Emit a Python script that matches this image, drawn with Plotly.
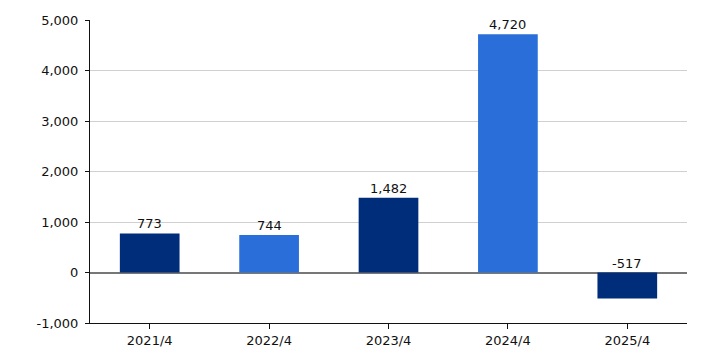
import plotly.graph_objects as go

categories = ["2021/4", "2022/4", "2023/4", "2024/4", "2025/4"]
values = [773, 744, 1482, 4720, -517]
colors = ["#002D7A", "#2A6FD9", "#002D7A", "#2A6FD9", "#002D7A"]
tick_vals = [-1000, 0, 1000, 2000, 3000, 4000, 5000]
tick_text = ["-1,000", "0", "1,000", "2,000", "3,000", "4,000", "5,000"]

fig = go.Figure()
fig.add_trace(go.Bar(x=categories, y=values, marker_color=colors, width=0.5,
                     marker_line_width=0, hoverinfo="skip"))

for c, v in zip(categories, values):
    fig.add_annotation(x=c, y=max(v, 0), text=f"{v:,}", showarrow=False,
                       yanchor="bottom", yshift=0,
                       font=dict(family="DejaVu Sans, Verdana", size=13, color="#111"))

fig.update_layout(
    width=706, height=353,
    margin=dict(l=90, r=19, t=20, b=30),
    paper_bgcolor="white", plot_bgcolor="white",
    showlegend=False,
    font=dict(family="DejaVu Sans, Verdana", size=13, color="#111"),
    bargap=0.5,
)
fig.update_xaxes(showline=True, linecolor="#111", linewidth=1, ticks="outside",
                 ticklen=5, tickcolor="#111", showgrid=False, automargin=False)
fig.update_yaxes(range=[-1000, 5000], tickvals=tick_vals, ticktext=tick_text,
                 showline=True, linecolor="#111", linewidth=1, ticks="outside",
                 ticklen=4, tickcolor="#111", showgrid=True, gridcolor="#d0d0d0",
                 zeroline=True, zerolinecolor="#777", zerolinewidth=2,
                 ticklabelstandoff=4, automargin=False)

fig.write_html("out.html")
